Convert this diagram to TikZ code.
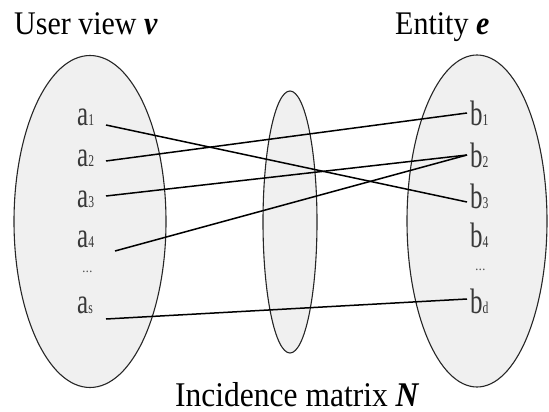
\documentclass[tikz,border=0pt]{standalone}
\usepackage{fontspec}
\usepackage{graphicx}
\setmainfont{Liberation Serif}
\newcommand{\sub}[1]{{\fontsize{13.5}{13.5}\selectfont #1}}
\newcommand{\lbl}[2]{\scalebox{0.86}[1.22]{#1\sub{#2}}}
\newcommand{\ttltext}[1]{\scalebox{1}[1.1]{#1}}
\begin{document}
\begin{tikzpicture}[x=1pt,y=-1pt,
  setshape/.style={draw=black!85, line width=1.1pt, fill=black!6},
  link/.style={draw=black, line width=1.5pt},
  lab/.style={text=black!78, font=\fontsize{29}{29}\selectfont, inner sep=0pt, anchor=base west},
  dotlab/.style={text=black!65, font=\fontsize{14}{14}\selectfont, inner sep=0pt, anchor=base west},
  ttl/.style={text=black, font=\fontsize{30}{30}\selectfont, inner sep=0pt, anchor=base west}]
\useasboundingbox (0,0) rectangle (549,412);
% sets
\draw[setshape] (90,221.5) ellipse [x radius=76pt, y radius=166pt];
\draw[setshape] (290,222) ellipse [x radius=27pt, y radius=131pt];
\draw[setshape] (477,221) ellipse [x radius=70pt, y radius=166pt];
% titles
\node[ttl] (tu) at (14,35) {\ttltext{User view \textbf{\textit{v}}}};
\node[ttl] (te) at (395,35) {\ttltext{Entity \textbf{\textit{e}}}};
\node[ttl, font=\fontsize{31.5}{31.5}\selectfont] (tn) at (175,406) {\ttltext{Incidence matrix \textbf{\textit{N}}}};
% left labels
\node[lab] (a1) at (77,125) {\lbl{a}{1}};
\node[lab] (a2) at (77,166) {\lbl{a}{2}};
\node[lab] (a3) at (77,207) {\lbl{a}{3}};
\node[lab] (a4) at (77,247) {\lbl{a}{4}};
\node[dotlab] (ad) at (82,272) {...};
\node[lab] (as) at (77,313) {\lbl{a}{s}};
% right labels
\node[lab] (b1) at (470,125) {\lbl{b}{1}};
\node[lab] (b2) at (470,167) {\lbl{b}{2}};
\node[lab] (b3) at (470,208) {\lbl{b}{3}};
\node[lab] (b4) at (470,247) {\lbl{b}{4}};
\node[dotlab] (bdots) at (475,270) {...};
\node[lab] (bd) at (470,313) {\lbl{b}{d}};
% connector ends
\coordinate (pa1) at (106,125);
\coordinate (pa2) at (106,161);
\coordinate (pa3) at (106,196);
\coordinate (pa4) at (115,251);
\coordinate (pas) at (106,319);
\coordinate (pb1) at (467,113);
\coordinate (pb2) at (467,155);
\coordinate (pb3) at (467,202);
\coordinate (pbd) at (467,299);
% connectors
\draw[link] (pa1) -- (pb3);
\draw[link] (pa2) -- (pb1);
\draw[link] (pa3) -- (pb2);
\draw[link] (pa4) -- (pb2);
\draw[link] (pas) -- (pbd);
\end{tikzpicture}
\end{document}
